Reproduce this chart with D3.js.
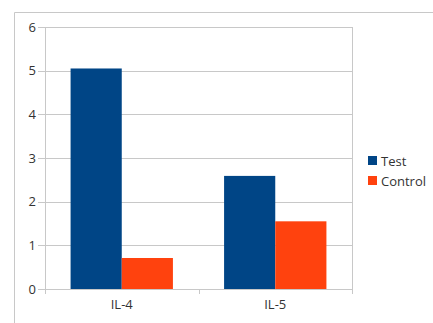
<!DOCTYPE html>
<html>
<head>
<meta charset="utf-8">
<script src="https://cdn.jsdelivr.net/npm/d3@7"></script>
<style>
  body { margin: 0; background: #fff; }
  text { font-family: "Open Sans", "DejaVu Sans", sans-serif; fill: #333; }
</style>
</head>
<body>
<svg id="chart" width="433" height="323"></svg>
<script>
var categories = ["IL-4", "IL-5"];
var seriesNames = ["Test", "Control"];
var testValues = [5.05, 2.59];
var controlValues = [0.71, 1.55];
var yTicks = [0, 1, 2, 3, 4, 5, 6];
var colors = ["#004586", "#ff420e"];

var svg = d3.select("#chart");

// outer frame (left + top only visible)
svg.append("path")
    .attr("d", "M14.5,323 V12.5 H433")
    .attr("fill", "none")
    .attr("stroke", "#c8c8c8")
    .attr("stroke-width", 1);

var plotLeft = 45, plotRight = 352, plotTop = 27, plotBottom = 289;

var x = d3.scaleBand().domain(categories).range([plotLeft, plotRight]);
var xInner = d3.scaleBand().domain(seriesNames)
    .range([0, x.bandwidth()]).paddingOuter(0.5).paddingInner(0);
var y = d3.scaleLinear().domain([0, 6]).range([plotBottom, plotTop]);

// grid lines
svg.append("g").selectAll("line")
    .data(yTicks)
    .enter().append("line")
    .attr("x1", plotLeft - 7).attr("x2", plotRight)
    .attr("y1", function (d) { return Math.round(y(d)) + 0.5; })
    .attr("y2", function (d) { return Math.round(y(d)) + 0.5; })
    .attr("stroke", "#c8c8c8");

// plot right edge and left axis
svg.append("line").attr("x1", plotRight + 0.5).attr("x2", plotRight + 0.5)
    .attr("y1", plotTop).attr("y2", plotBottom + 5).attr("stroke", "#c8c8c8");
svg.append("line").attr("x1", plotLeft + 0.5).attr("x2", plotLeft + 0.5)
    .attr("y1", plotTop).attr("y2", plotBottom + 5).attr("stroke", "#c8c8c8");

// x tick between categories
svg.append("line").attr("x1", Math.round(x("IL-5")) + 0.5).attr("x2", Math.round(x("IL-5")) + 0.5)
    .attr("y1", plotBottom).attr("y2", plotBottom + 5).attr("stroke", "#c8c8c8");

// y labels
svg.append("g").selectAll("text")
    .data(yTicks)
    .enter().append("text")
    .attr("x", plotLeft - 9)
    .attr("y", function (d) { return y(d) + 4.5; })
    .attr("text-anchor", "end")
    .attr("font-size", 13)
    .text(function (d) { return d; });

// bars
var rows = categories.map(function (c, i) {
    return { cat: c, values: [testValues[i], controlValues[i]] };
});
var groups = svg.append("g").selectAll("g")
    .data(rows)
    .enter().append("g")
    .attr("transform", function (d) { return "translate(" + x(d.cat) + ",0)"; });
groups.selectAll("rect")
    .data(function (d) { return d.values.map(function (v, j) { return { name: seriesNames[j], v: v, j: j }; }); })
    .enter().append("rect")
    .attr("x", function (d) { return xInner(d.name); })
    .attr("width", xInner.bandwidth())
    .attr("y", function (d) { return y(d.v); })
    .attr("height", function (d) { return plotBottom - y(d.v); })
    .attr("fill", function (d) { return colors[d.j]; });

// x labels
svg.append("g").selectAll("text")
    .data(categories)
    .enter().append("text")
    .attr("x", function (d) { return x(d) + x.bandwidth() / 2; })
    .attr("y", plotBottom + 20)
    .attr("text-anchor", "middle")
    .attr("font-size", 13)
    .text(function (d) { return d; });

// legend
var legend = svg.append("g").selectAll("g")
    .data(seriesNames)
    .enter().append("g")
    .attr("transform", function (d, i) { return "translate(368," + (156 + i * 20) + ")"; });
legend.append("rect").attr("width", 9).attr("height", 9)
    .attr("fill", function (d, i) { return colors[i]; });
legend.append("text").attr("x", 13).attr("y", 9.5)
    .attr("font-size", 13)
    .text(function (d) { return d; });
</script>
</body>
</html>
